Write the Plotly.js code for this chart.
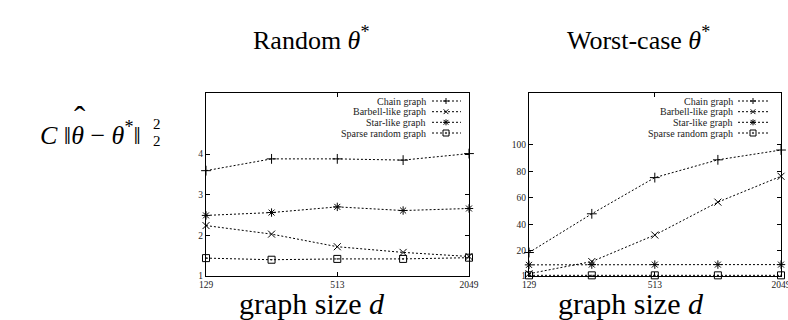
<!DOCTYPE html>
<html>
<head>
<meta charset="utf-8">
<script src="https://cdn.plot.ly/plotly-3.0.1.min.js"></script>
<style>
  html, body { margin: 0; padding: 0; background: #fff; }
  #chart { width: 788px; height: 320px; }
</style>
</head>
<body>
<div id="chart"></div>
<script>
// Graph sizes d (log-spaced, 2^k + 1)
const graphSize = [129, 257, 513, 1025, 2049];
const xTickVals = [129, 513, 2049];

const seriesNames = ["Chain graph", "Barbell-like graph", "Star-like graph", "Sparse random graph"];

// Random theta*: scaled squared error
const randomChain   = [3.59, 3.88, 3.88, 3.85, 4.01];
const randomBarbell = [2.24, 2.03, 1.72, 1.58, 1.48];
const randomStar    = [2.49, 2.56, 2.70, 2.61, 2.66];
const randomSparse  = [1.44, 1.40, 1.42, 1.42, 1.45];

// Worst-case theta*: scaled squared error
const worstChain   = [18.7, 47.9, 75.2, 88.6, 96.0];
const worstBarbell = [2.7, 11.9, 31.9, 56.7, 76.2];
const worstStar    = [9.4, 9.6, 9.6, 9.6, 9.6];
const worstSparse  = [1.5, 1.5, 1.5, 1.5, 1.5];

const randomTicks = [1, 2, 3, 4];
const worstTicks  = [1, 20, 40, 60, 80, 100];

const SERIF = "Liberation Serif";
const W = 788, H = 320;
const px = x => x / W;
const py = y => 1 - y / H;

const symbols = ["cross-thin-open", "x-thin-open", "asterisk-open", "square-open-dot"];
const msize = [7, 7, 7, 7];

function series(xa, ya, ys) {
  return ys.map((y, i) => ({
    type: "scatter", mode: "lines+markers",
    x: graphSize, y: y, xaxis: xa, yaxis: ya,
    name: seriesNames[i], showlegend: false,
    line: { color: "#000", width: 1, dash: "2px,2px" },
    marker: { symbol: symbols[i], size: msize[i], color: "#000",
              line: { color: "#000", width: 1 } },
    cliponaxis: false
  }));
}

const traces = [
  ...series("x", "y", [randomChain, randomBarbell, randomStar, randomSparse]),
  ...series("x2", "y2", [worstChain, worstBarbell, worstStar, worstSparse])
];

function xAxis(domain, anchor) {
  return {
    type: "log", domain: domain, anchor: anchor,
    range: [Math.log10(129), Math.log10(2049)],
    tickvals: xTickVals, ticktext: xTickVals.map(String),
    ticks: "inside", ticklen: 4, tickwidth: 1, tickcolor: "#000",
    ticklabeloverflow: "allow",
    showline: true, linecolor: "#000", linewidth: 1, mirror: "ticks",
    showgrid: false, zeroline: false,
    tickfont: { family: SERIF, size: 9.5, color: "#222" }
  };
}
function yAxis(domain, anchor, range, ticks) {
  return {
    domain: domain, anchor: anchor, range: range,
    tickvals: ticks, ticktext: ticks.map(String),
    ticks: "inside", ticklen: 4, tickwidth: 1, tickcolor: "#000",
    showline: true, linecolor: "#000", linewidth: 1, mirror: "ticks",
    showgrid: false, zeroline: false,
    tickfont: { family: SERIF, size: 9.5, color: "#222" }
  };
}

const yDom = [py(276), py(93)];

// Legend keys: right-aligned label, dotted sample line, marker glyph
const shapes = [];
const annotations = [];
const rowY = [101, 111.7, 122.3, 133];

function keyMarker(kind, cx, cy) {
  const r = 3;
  const ln = (x0, y0, x1, y1) => shapes.push({
    type: "line", xref: "paper", yref: "paper",
    x0: px(x0), y0: py(y0), x1: px(x1), y1: py(y1),
    line: { color: "#000", width: 1 }
  });
  if (kind === 0 || kind === 2) { ln(cx - r, cy, cx + r, cy); ln(cx, cy - r, cx, cy + r); }
  if (kind === 1 || kind === 2) { ln(cx - r * 0.8, cy - r * 0.8, cx + r * 0.8, cy + r * 0.8); ln(cx - r * 0.8, cy + r * 0.8, cx + r * 0.8, cy - r * 0.8); }
  if (kind === 3) {
    shapes.push({ type: "rect", xref: "paper", yref: "paper",
      x0: px(cx - r), y0: py(cy - r), x1: px(cx + r), y1: py(cy + r),
      line: { color: "#000", width: 1 }, fillcolor: "#fff" });
    shapes.push({ type: "rect", xref: "paper", yref: "paper",
      x0: px(cx - 0.6), y0: py(cy - 0.6), x1: px(cx + 0.6), y1: py(cy + 0.6),
      line: { color: "#000", width: 0.5 }, fillcolor: "#000" });
  }
}

function legendBlock(textRight, lineX0, lineX1, markX) {
  seriesNames.forEach((name, i) => {
    annotations.push({
      xref: "paper", yref: "paper", x: px(textRight), y: py(rowY[i]),
      xanchor: "right", yanchor: "middle", showarrow: false,
      text: name, font: { family: SERIF, size: 10, color: "#222" }
    });
    shapes.push({ type: "line", xref: "paper", yref: "paper",
      x0: px(lineX0), y0: py(rowY[i]), x1: px(lineX1), y1: py(rowY[i]),
      line: { color: "#000", width: 1, dash: "2px,2px" } });
    keyMarker(i, markX, rowY[i]);
  });
}
legendBlock(428, 432, 461, 446);
legendBlock(735, 738, 768, 753);

// Titles and axis labels
const big = { family: SERIF, size: 26, color: "#000" };
const xlab = { family: SERIF, size: 30, color: "#000" };
const ylab = { family: SERIF, size: 26, color: "#000" };
annotations.push(
  { xref: "paper", yref: "paper", x: px(311), y: py(38), xanchor: "center", yanchor: "middle",
    showarrow: false, text: "Random <i>θ</i><sup>*</sup>", font: big },
  { xref: "paper", yref: "paper", x: px(638), y: py(38), xanchor: "center", yanchor: "middle",
    showarrow: false, text: "Worst-case <i>θ</i><sup>*</sup>", font: big },
  { xref: "paper", yref: "paper", x: px(312), y: py(303), xanchor: "center", yanchor: "middle",
    showarrow: false, text: "graph size <i>d</i>", font: xlab },
  { xref: "paper", yref: "paper", x: px(631), y: py(303), xanchor: "center", yanchor: "middle",
    showarrow: false, text: "graph size <i>d</i>", font: xlab },
  { xref: "paper", yref: "paper", x: px(38), y: py(133), xanchor: "left", yanchor: "middle",
    showarrow: false, text: "<i>C</i>&nbsp;‖<i>θ</i>&nbsp;−&nbsp;<i>θ</i><sup>*</sup>‖", font: ylab },
  { xref: "paper", yref: "paper", x: px(80), y: py(118), xanchor: "center", yanchor: "middle",
    showarrow: false, text: "ˆ", font: { family: SERIF, size: 34, color: "#000" } },
  { xref: "paper", yref: "paper", x: px(151), y: py(124), xanchor: "left", yanchor: "middle",
    showarrow: false, text: "2", font: { family: SERIF, size: 15, color: "#000" } },
  { xref: "paper", yref: "paper", x: px(151), y: py(141), xanchor: "left", yanchor: "middle",
    showarrow: false, text: "2", font: { family: SERIF, size: 15, color: "#000" } }
);

const layout = {
  width: W, height: H,
  margin: { l: 0, r: 0, t: 0, b: 0 },
  paper_bgcolor: "#fff", plot_bgcolor: "#fff",
  font: { family: SERIF, color: "#000" },
  showlegend: false,
  xaxis: xAxis([px(206), px(469)], "y"),
  yaxis: yAxis(yDom, "x", [1, 5.5], randomTicks),
  xaxis2: xAxis([px(529), px(781)], "y2"),
  yaxis2: yAxis(yDom, "x2", [1, 139], worstTicks),
  shapes: shapes,
  annotations: annotations
};

Plotly.newPlot("chart", traces, layout, { displayModeBar: false, staticPlot: true });
</script>
</body>
</html>
